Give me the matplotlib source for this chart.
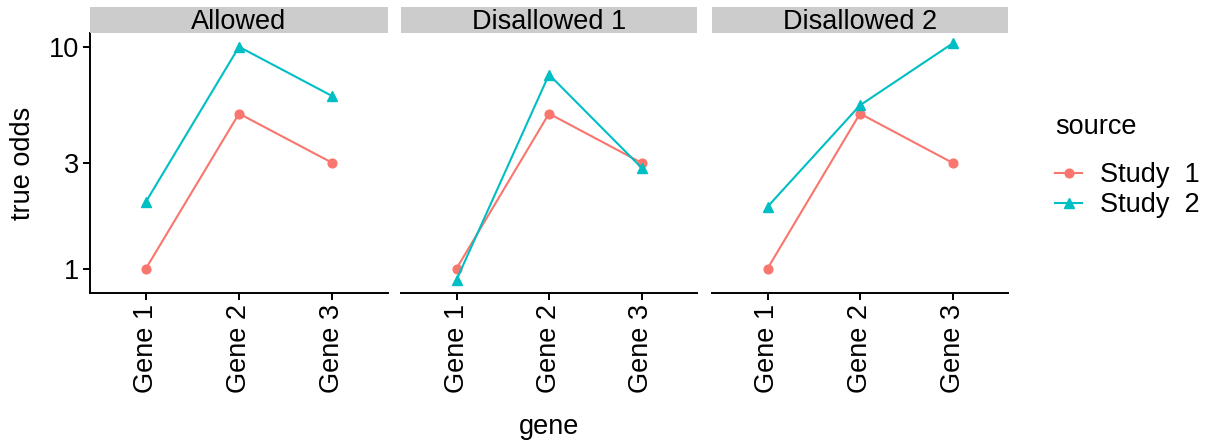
import numpy as np
import matplotlib
matplotlib.use("Agg")
import matplotlib.pyplot as plt
from matplotlib.lines import Line2D

plt.rcParams['font.family'] = ['Liberation Sans', 'DejaVu Sans']

genes = ["Gene 1", "Gene 2", "Gene 3"]
panels = ["Allowed", "Disallowed 1", "Disallowed 2"]
study1 = {"Allowed": [1.0, 5.0, 3.0],
          "Disallowed 1": [1.0, 5.0, 3.0],
          "Disallowed 2": [1.0, 5.0, 3.0]}
study2 = {"Allowed": [2.0, 10.0, 6.0],
          "Disallowed 1": [0.89, 7.5, 2.85],
          "Disallowed 2": [1.9, 5.45, 10.35]}
series_labels = ["Study  1", "Study  2"]
y_ticks = [1, 3, 10]

W, H = 1209, 442
fig = plt.figure(figsize=(W / 100, H / 100), dpi=100)

c1, c2 = "#F8766D", "#00BFC4"
fs = 19.5
lw = 1.5

allv = np.concatenate([np.array(v) for v in list(study1.values()) + list(study2.values())])
lo, hi = np.log10(allv.min()), np.log10(allv.max())
pad = 0.05 * (hi - lo)
ylim = (10 ** (lo - pad - 0.006), 10 ** (hi + pad - 0.006))

panel_x = [(90, 388), (401, 697), (712, 1008)]
top, bottom = 33, 293
strip_top = 7

x = np.arange(1, len(genes) + 1)
for i, (name, (x0, x1)) in enumerate(zip(panels, panel_x)):
    ax = fig.add_axes([x0 / W, 1 - bottom / H, (x1 - x0) / W, (bottom - top) / H])
    ax.plot(x, study1[name], color=c1, lw=lw, marker='o', ms=6.3, zorder=3)
    ax.plot(x, study2[name], color=c2, lw=lw, marker='^', ms=7.3, zorder=3)
    ax.set_yscale('log')
    ax.set_ylim(*ylim)
    ax.set_xlim(0.4, len(genes) + 0.6)
    ax.set_xticks(x)
    ax.set_xticklabels(genes, rotation=90, fontsize=fs)
    ax.minorticks_off()
    for s in ['top', 'right']:
        ax.spines[s].set_visible(False)
    ax.spines['bottom'].set_linewidth(1.4)
    ax.spines['left'].set_linewidth(1.4)
    ax.tick_params(axis='x', length=5, width=1.4, pad=3, colors='black')
    if i == 0:
        ax.set_yticks(y_ticks)
        ax.set_yticklabels([str(t) for t in y_ticks], fontsize=fs)
        ax.tick_params(axis='y', length=5, width=1.4, pad=3)
    else:
        ax.spines['left'].set_visible(False)
        ax.set_yticks([])
    # strip
    sax = fig.add_axes([x0 / W, 1 - top / H, (x1 - x0) / W, (top - strip_top) / H])
    sax.set_facecolor('#CCCCCC')
    for s in sax.spines.values():
        s.set_visible(False)
    sax.set_xticks([])
    sax.set_yticks([])
    sax.text(0.5, 0.42, name, ha='center', va='center', fontsize=fs, transform=sax.transAxes)

fig.text(549 / W, 1 - 427 / H, "gene", ha='center', va='center', fontsize=fs)
fig.text(23 / W, 1 - 163 / H, "true odds", ha='center', va='center', rotation=90, fontsize=fs)

handles = [Line2D([], [], color=c1, lw=lw, marker='o', ms=6.3),
           Line2D([], [], color=c2, lw=lw, marker='^', ms=7.3)]
leg = fig.legend(handles, series_labels, title="source", loc='upper left',
                 bbox_to_anchor=(1055 / W, 1 - 114 / H), frameon=False,
                 fontsize=fs, title_fontsize=fs, handlelength=1.0,
                 handletextpad=0.65, labelspacing=0.15, borderaxespad=0,
                 borderpad=0)
leg._legend_box.align = "left"
leg._legend_box.sep = 16

fig.savefig("out.png", dpi=100)
